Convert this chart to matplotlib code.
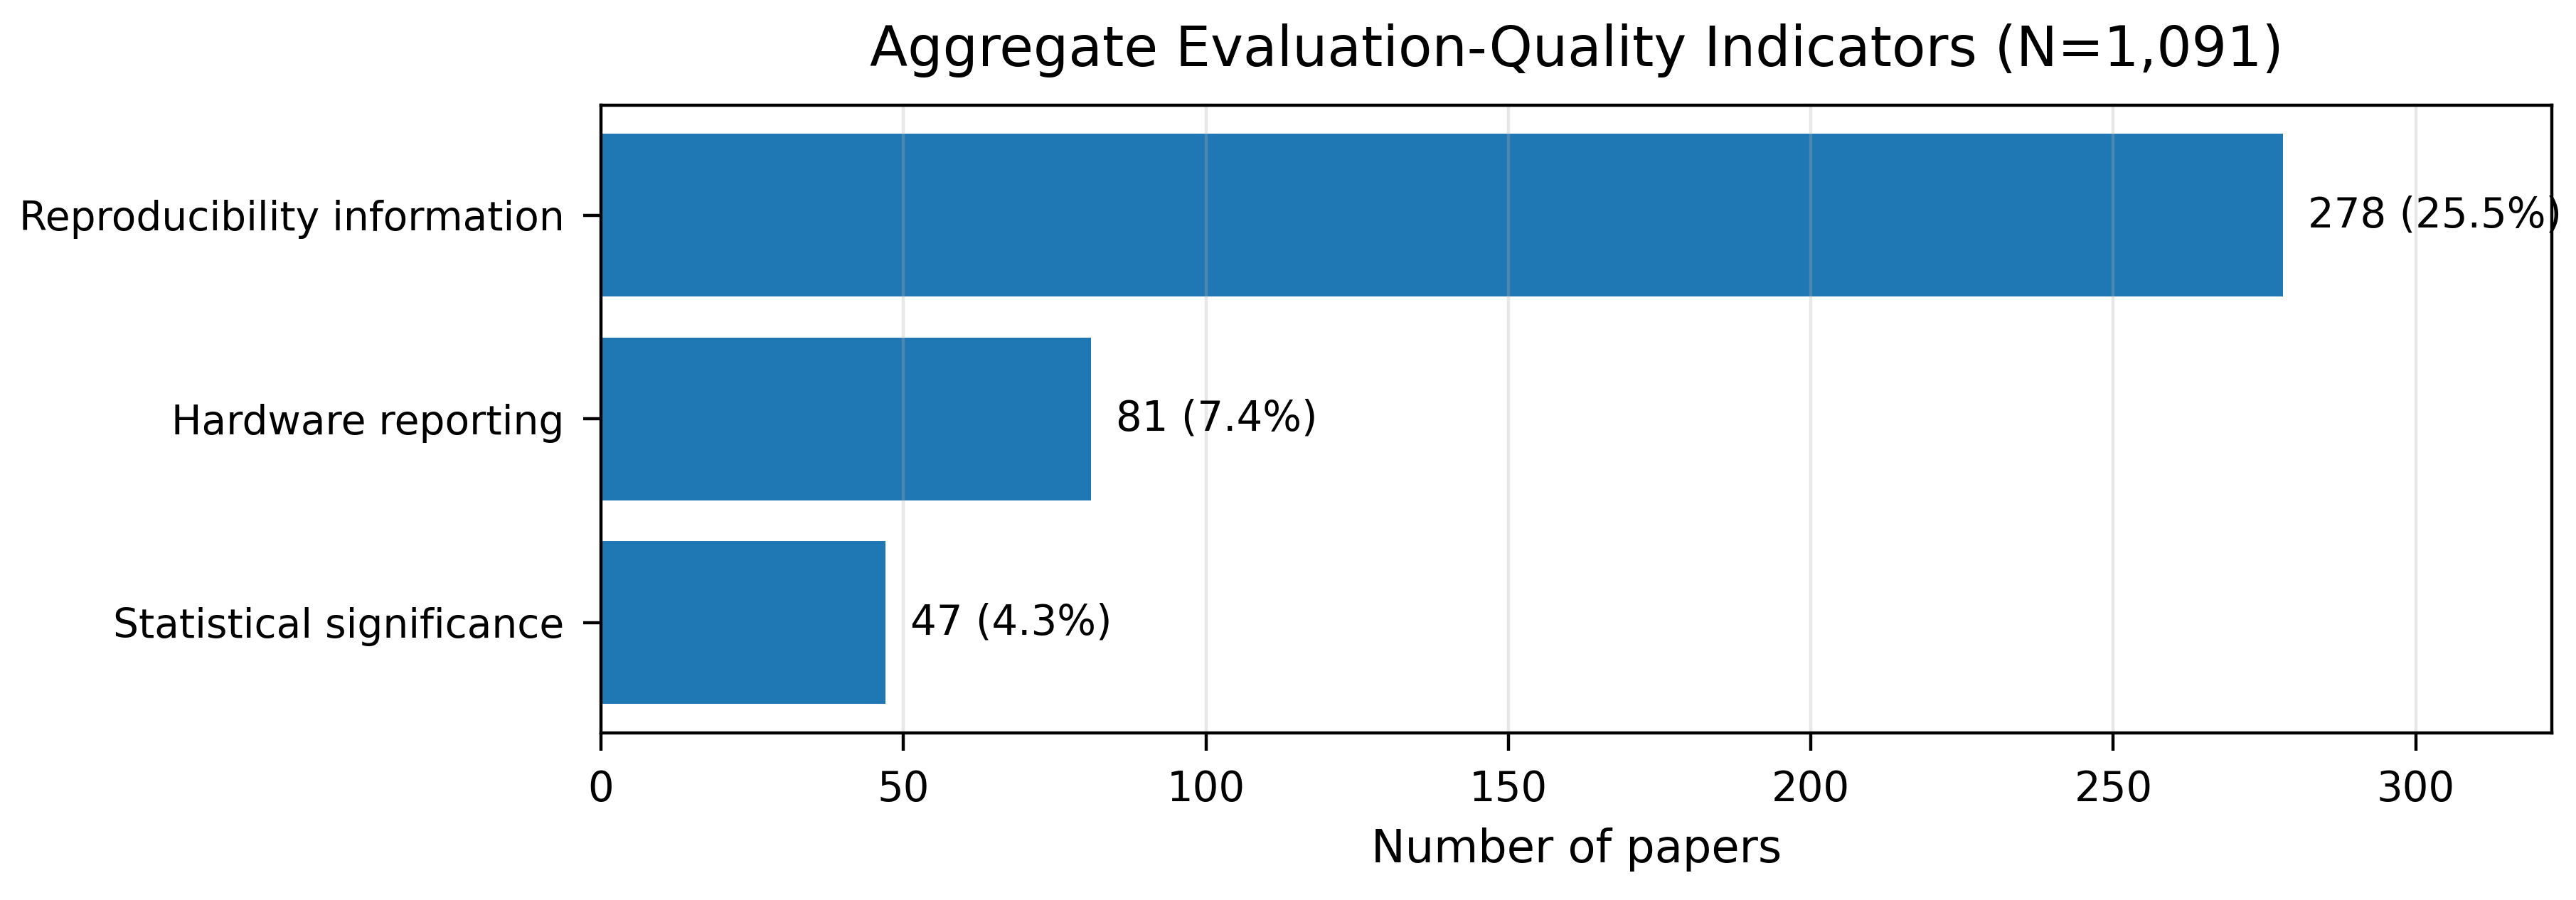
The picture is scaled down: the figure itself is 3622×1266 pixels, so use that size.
import numpy as np
import matplotlib
matplotlib.use("Agg")
import matplotlib.pyplot as plt

categories = ["Reproducibility information", "Hardware reporting", "Statistical significance"]
counts = [278, 81, 47]
total = 1091

DPI = 400
fig = plt.figure(figsize=(3622 / DPI, 1266 / DPI), dpi=DPI)
ax = fig.add_axes([0.2333, 0.186, 0.7573, 0.697])

y = np.arange(len(categories))
ax.barh(y, counts, height=0.8, color="#1f77b4")
ax.set_yticks(y)
ax.set_yticklabels(categories)
ax.invert_yaxis()

top = max(counts)
for yi, c in zip(y, counts):
    ax.text(c + top * 0.015, yi, f"{c} ({c / total * 100:.1f}%)", va="center", ha="left", fontsize=10.4)

ax.set_xlim(0, top * 1.16)
ax.tick_params(axis="both", length=4.5, pad=4.8)
ax.tick_params(axis="x", labelsize=10.4)
ax.tick_params(axis="y", labelsize=10.2)
ax.set_xlabel("Number of papers", fontsize=11.5, labelpad=4.5)
ax.set_title(f"Aggregate Evaluation-Quality Indicators (N={total:,})", fontsize=14, pad=10)
ax.grid(axis="x", alpha=0.3)

fig.savefig("out.png", dpi=DPI)
